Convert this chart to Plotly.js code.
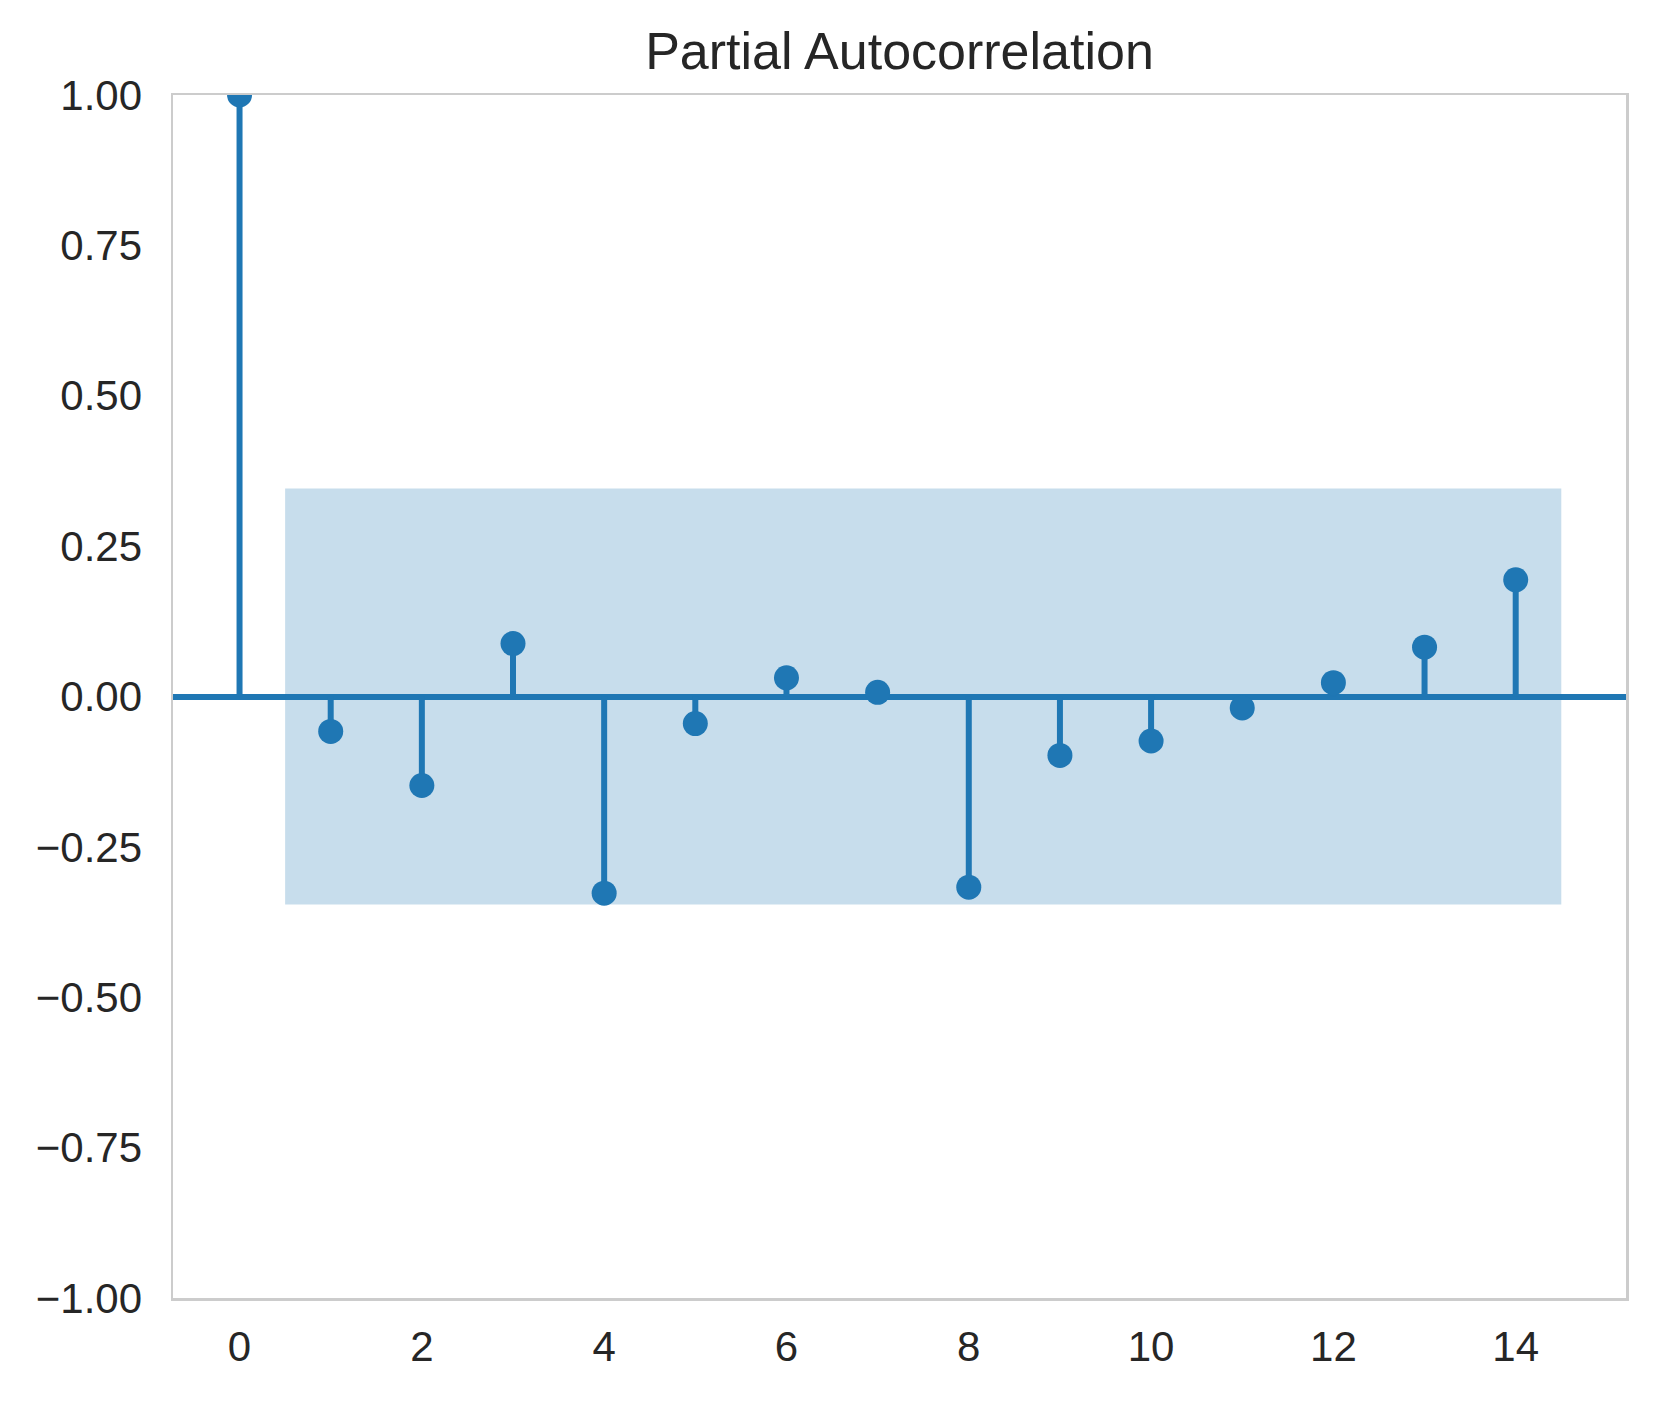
<!DOCTYPE html>
<html>
<head>
<meta charset="utf-8">
<script src="https://cdn.plot.ly/plotly-3.0.1.min.js"></script>
<style>html,body{margin:0;padding:0;background:#fff;}#chart{width:1659px;height:1401px;}</style>
</head>
<body>
<div id="chart"></div>
<script>
// Data
const lags = [0, 1, 2, 3, 4, 5, 6, 7, 8, 9, 10, 11, 12, 13, 14];
const pacfValues = [1.0, -0.058, -0.148, 0.088, -0.327, -0.045, 0.031, 0.007, -0.317, -0.098, -0.074, -0.019, 0.023, 0.082, 0.194];
const confHalfWidth = [0.346, 0.346, 0.346, 0.346, 0.346, 0.346, 0.346, 0.346, 0.346, 0.346, 0.346, 0.346, 0.346, 0.346];
const yTickVals = [-1.0, -0.75, -0.5, -0.25, 0.0, 0.25, 0.5, 0.75, 1.0];
const xTickVals = [0, 2, 4, 6, 8, 10, 12, 14];
const chartTitle = "Partial Autocorrelation";

const blue = "#1f77b4";
const font = "Liberation Sans, Arial, Helvetica, sans-serif";

// Stems built from data
const stemX = [], stemY = [];
lags.forEach((l, i) => { stemX.push(l, l, null); stemY.push(0, pacfValues[i], null); });

// Confidence band over lags >= 1, endpoints extended by half a lag
const bandX = lags.slice(1).map(Number);
bandX[0] -= 0.5;
bandX[bandX.length - 1] += 0.5;
const upper = confHalfWidth.map(v => v);
const lower = confHalfWidth.map(v => -v);

const traces = [
  { x: stemX, y: stemY, mode: "lines", line: { color: blue, width: 6 }, hoverinfo: "skip", showlegend: false },
  { x: lags, y: pacfValues, mode: "markers", marker: { color: blue, size: 25 }, showlegend: false },
  { x: bandX, y: lower, mode: "lines", line: { color: "rgba(31,119,180,0.0)", width: 0 }, showlegend: false, hoverinfo: "skip" },
  { x: bandX, y: upper, mode: "lines", fill: "tonexty", fillcolor: "rgba(31,119,180,0.25)", line: { color: "rgba(31,119,180,0.0)", width: 0 }, showlegend: false, hoverinfo: "skip" }
];

const layout = {
  width: 1659, height: 1401,
  margin: { l: 173, r: 33, t: 95, b: 103 },
  paper_bgcolor: "#ffffff", plot_bgcolor: "#ffffff",
  font: { family: font, color: "#262626", size: 42 },
  title: { text: chartTitle, font: { family: font, size: 52, color: "#262626" }, x: 0.5, xref: "paper", xanchor: "center", y: 1 - 51 / 1401, yref: "container", yanchor: "middle" },
  xaxis: {
    range: [-0.73, 15.21], tickvals: xTickVals, ticktext: xTickVals.map(String),
    showgrid: false, zeroline: false, showline: true, mirror: true, linecolor: "#cccccc", linewidth: 2.5,
    ticks: "", ticklabelstandoff: 10, tickfont: { family: font, size: 42, color: "#262626" }
  },
  yaxis: {
    range: [-1, 1], tickvals: yTickVals, tickformat: ".2f",
    showgrid: false, zeroline: true, zerolinecolor: blue, zerolinewidth: 6,
    showline: true, mirror: true, linecolor: "#cccccc", linewidth: 2.5,
    ticks: "", ticklabelstandoff: 20, tickfont: { family: font, size: 42, color: "#262626" }
  }
};

Plotly.newPlot("chart", traces, layout, { displayModeBar: false, staticPlot: true });
</script>
</body>
</html>
